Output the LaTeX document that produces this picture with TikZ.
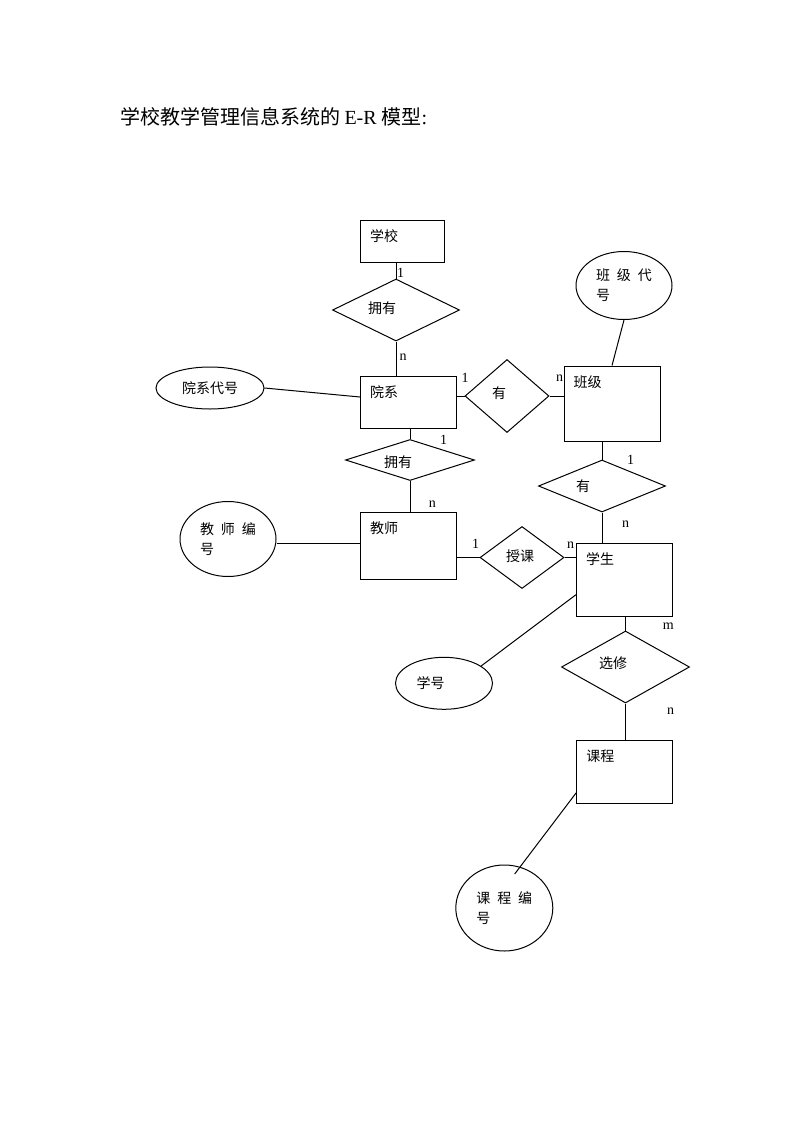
\documentclass[tikz,border=0pt]{standalone}
\usepackage{fontspec}
\setmainfont{Liberation Serif}
\newfontfamily\cjk[WordSpace=2.2]{Noto Sans CJK SC}
\usetikzlibrary{shapes.geometric}

\begin{document}
\begin{tikzpicture}[x=1pt, y=-1pt, line width=1pt]
\tikzset{entity/.style={draw, rectangle, inner sep=0pt}}
\tikzset{etext/.style={inner sep=0pt, anchor=west, xshift=9.7pt, yshift=-16.3pt, font=\cjk\fontsize{14}{16}\selectfont}}
\tikzset{relation/.style={draw, diamond, inner sep=0pt}}
\tikzset{rtext/.style={inner sep=0pt, font=\cjk\fontsize{14}{16}\selectfont}}
\tikzset{attrib/.style={draw, ellipse, inner sep=0pt, align=left, font=\cjk\fontsize{14}{20}\selectfont}}
\tikzset{card/.style={inner sep=0pt, font=\fontsize{14}{16}\selectfont}}
\useasboundingbox (0,0) rectangle (793,1122);

\node[anchor=west, inner sep=0pt, font=\fontsize{20}{24}\selectfont] (title) at (120,117)
  {{\cjk 学校教学管理信息系统的}\hspace{4pt}E-R {\cjk 模型}:};

% entities
\node[entity, minimum width=84pt, minimum height=42pt, label={[etext]north west:学校}] (xuexiao) at (402.5,241) {};
\node[entity, minimum width=96pt, minimum height=52pt, label={[etext]north west:院系}] (yuanxi) at (408.5,402) {};
\node[entity, minimum width=96pt, minimum height=75pt, label={[etext]north west:班级}] (banji) at (612,403.5) {};
\node[entity, minimum width=96pt, minimum height=67pt, label={[etext]north west:教师}] (jiaoshi) at (408.5,546) {};
\node[entity, minimum width=96pt, minimum height=73pt, label={[etext]north west:学生}] (xuesheng) at (624.5,579.7) {};
\node[entity, minimum width=96pt, minimum height=63pt, label={[etext]north west:课程}] (kecheng) at (624.7,771.8) {};

% relations
\node[relation, minimum width=127pt, minimum height=62pt, label={[rtext, xshift=-14pt, yshift=2pt]center:拥有}] (yongyou1) at (396,310) {};
\node[relation, minimum width=84pt, minimum height=73pt, label={[rtext, xshift=-8pt, yshift=3pt]center:有}] (you1) at (507,396) {};
\node[relation, minimum width=129pt, minimum height=41pt, label={[rtext, xshift=-12pt, yshift=-2pt]center:拥有}] (yongyou2) at (410,460) {};
\node[relation, minimum width=127pt, minimum height=52pt, label={[rtext, xshift=-19pt]center:有}] (you2) at (602,486) {};
\node[relation, minimum width=84pt, minimum height=62pt, label={[rtext, xshift=-2pt, yshift=1.5pt]center:授课}] (shouke) at (522,557.5) {};
\node[relation, minimum width=128pt, minimum height=72pt, label={[rtext, xshift=-12.5pt, yshift=4pt]center:选修}] (xuanxiu) at (625.5,667) {};

% attributes
\node[attrib, minimum width=108pt, minimum height=42pt] (yxdh) at (210,388) {院系代号};
\node[attrib, minimum width=96pt, minimum height=68pt] (bjdh) at (624,285.5) {班 级 代\\号};
\node[attrib, minimum width=96pt, minimum height=75pt] (jsbh) at (228,539) {教 师 编\\号};
\node[attrib, minimum width=97pt, minimum height=52pt] (xh) at (444,683.3) {学号\hspace{27pt}};
\node[attrib, minimum width=97pt, minimum height=86pt] (kcbh) at (504.3,908) {课 程 编\\号};

% connectors
\draw (yongyou1.north) -- node[card, pos=0, xshift=4.5pt, yshift=5.5pt] {1} (yongyou1.north |- xuexiao.south);
\draw (yongyou1.south) -- node[card, pos=0, xshift=7pt, yshift=-16pt] {n} (yongyou1.south |- yuanxi.north);
\draw (you1.west) -- node[card, pos=0, xshift=0.7pt, yshift=17.7pt] {1} (you1.west -| yuanxi.east);
\draw (you1.east) -- node[card, pos=0, xshift=10pt, yshift=18pt] {n} (you1.east -| banji.west);
\draw (yongyou2.north) -- node[card, pos=0, xshift=33.7pt, yshift=-0.5pt] {1} (yongyou2.north |- yuanxi.south);
\draw (yongyou2.south) -- node[card, pos=0, xshift=22.3pt, yshift=-22.8pt] {n} (yongyou2.south |- jiaoshi.north);
\draw (you2.north) -- node[card, pos=0, xshift=28.7pt, yshift=-0.7pt] {1} (you2.north |- banji.south);
\draw (you2.south) -- node[card, pos=0, xshift=23.7pt, yshift=-11.3pt] {n} (you2.south |- xuesheng.north);
\draw (shouke.west) -- node[card, pos=0, xshift=-4pt, yshift=13.5pt] {1} (shouke.west -| jiaoshi.east);
\draw (shouke.east) -- node[card, pos=0, xshift=6pt, yshift=12.5pt] {n} (shouke.east -| xuesheng.west);
\draw (xuanxiu.north) -- node[card, pos=0, xshift=42.8pt, yshift=4.3pt] {m} (xuanxiu.north |- xuesheng.south);
\draw (xuanxiu.south) -- node[card, pos=0, xshift=45.2pt, yshift=-8pt] {n} (xuanxiu.south |- kecheng.north);

\draw (yxdh.east) -- ([yshift=5pt]yuanxi.west);
\draw (bjdh.south) -- (banji.north);
\draw ([yshift=-4pt]jsbh.east) -- ([yshift=3pt]jiaoshi.west);
\draw (xh.25) -- ([yshift=-15pt]xuesheng.west);
\draw[shorten >=-9pt] ([yshift=-21pt]kecheng.west) -- (kcbh.69);
\end{tikzpicture}
\end{document}
